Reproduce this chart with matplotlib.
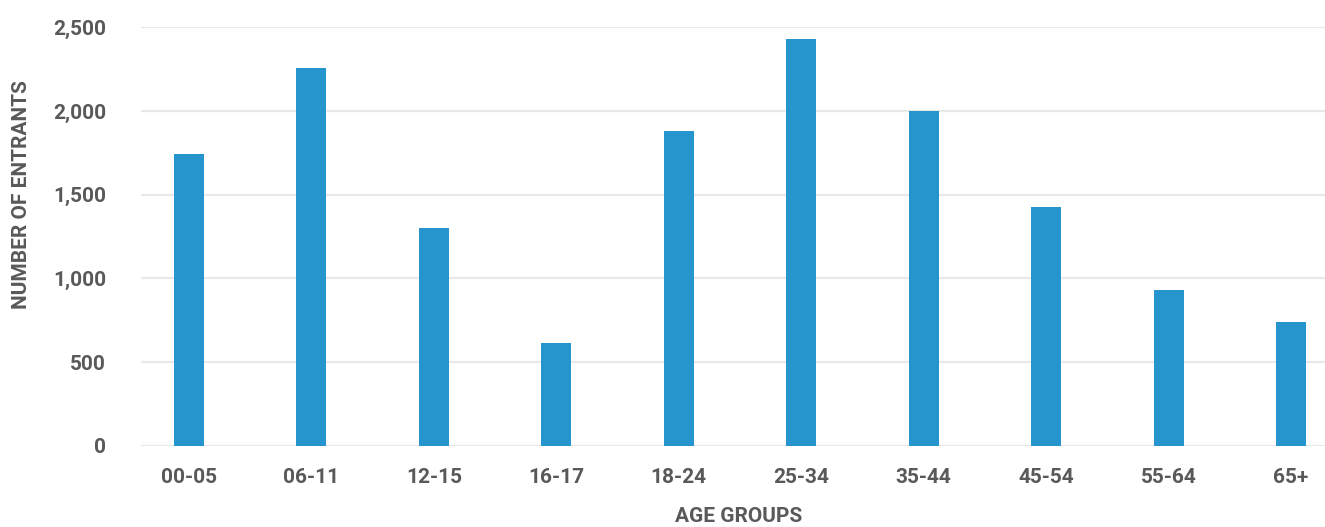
import matplotlib
matplotlib.use("Agg")
import matplotlib.pyplot as plt
from matplotlib.ticker import FuncFormatter, MultipleLocator
import numpy as np

BAR_BLUE = "#2695ce"
TXT_GREY = "#595959"
GRID_GREY = "#e8e8e8"

age_groups = ["00-05", "06-11", "12-15", "16-17", "18-24",
              "25-34", "35-44", "45-54", "55-64", "65+"]
entrants = [1745, 2255, 1300, 615, 1880, 2430, 2000, 1425, 930, 740]

plt.rcParams["font.family"] = ["Roboto", "DejaVu Sans"]
plt.rcParams["font.weight"] = "bold"

fig = plt.figure(figsize=(13.25, 5.27), dpi=100)
ax = fig.add_axes([0.1064, 0.1543, 0.8936, 0.7939])

x = np.arange(len(age_groups))
ax.bar(x, entrants, width=0.245, color=BAR_BLUE, zorder=3)

ax.set_ylim(0, 2500)
ax.set_xlim(-0.392, 9.278)
ax.yaxis.set_major_locator(MultipleLocator(500))
ax.yaxis.set_major_formatter(FuncFormatter(lambda v, p: f"{int(v):,}"))
ax.grid(axis="y", color=GRID_GREY, linewidth=1.6, zorder=0)
ax.set_axisbelow(True)

ax.set_xticks(x)
ax.set_xticklabels(age_groups)
ax.tick_params(axis="both", length=0, labelsize=15, labelcolor=TXT_GREY)
ax.tick_params(axis="x", pad=16)
ax.tick_params(axis="y", pad=25)
for lbl in ax.get_xticklabels() + ax.get_yticklabels():
    lbl.set_fontweight("bold")

for s in ax.spines.values():
    s.set_visible(False)

ax.set_xlabel("AGE GROUPS", fontsize=15, fontweight="bold", color=TXT_GREY)
ax.set_ylabel("NUMBER OF ENTRANTS", fontsize=15, fontweight="bold", color=TXT_GREY)
ax.xaxis.set_label_coords(0.505, -0.147)
ax.yaxis.set_label_coords(-0.0925, 0.6)

fig.savefig("out.png", dpi=100)
